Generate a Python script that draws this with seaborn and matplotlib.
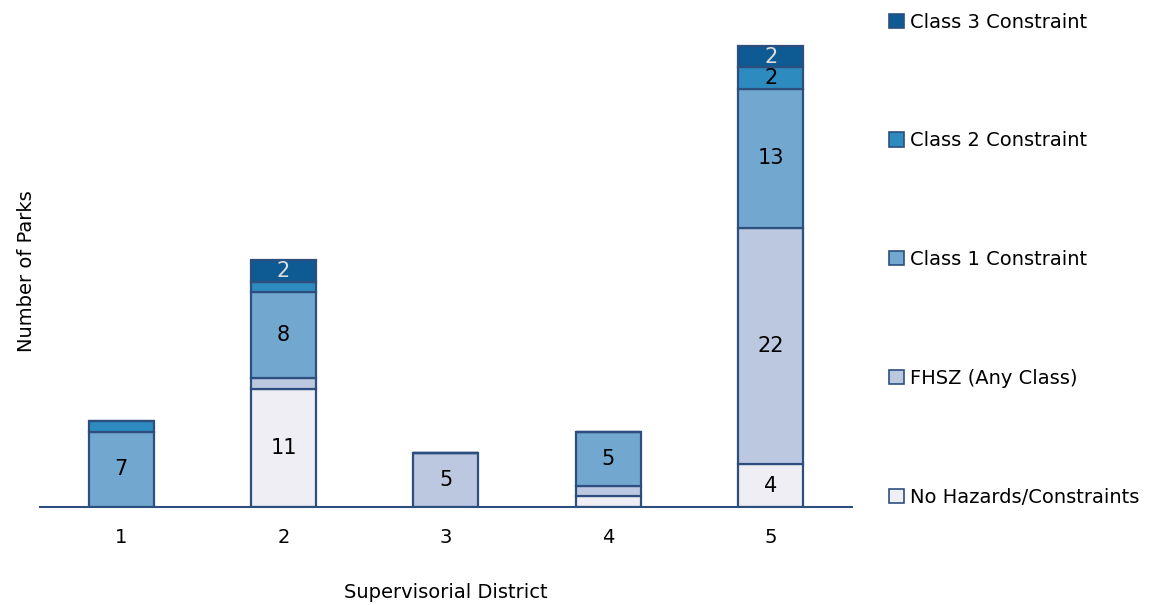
import matplotlib
matplotlib.use("Agg")
import matplotlib.pyplot as plt
import seaborn as sns
import numpy as np
import pandas as pd
from matplotlib.patches import Patch

districts = ["1", "2", "3", "4", "5"]
no_hazards = [0, 11, 0, 1, 4]
fhsz = [0, 1, 5, 1, 22]
class1 = [7, 8, 0, 5, 13]
class2 = [1, 1, 0, 0, 2]
class3 = [0, 2, 0, 0, 2]

series_names = ["No Hazards/Constraints", "FHSZ (Any Class)", "Class 1 Constraint",
                "Class 2 Constraint", "Class 3 Constraint"]
series_values = [no_hazards, fhsz, class1, class2, class3]
colors = ["#F0EEF5", "#BCC8E0", "#72A8D0", "#2E8BC0", "#0E5A92"]
label_colors = ["black", "black", "black", "black", "#DDDDDD"]
edge = "#2C4F7F"

sns.set_theme(style="white")
plt.rcParams["font.family"] = ["DejaVu Sans"]
plt.rcParams["text.color"] = "black"
plt.rcParams["axes.labelcolor"] = "black"
plt.rcParams["xtick.color"] = "black"

fig = plt.figure(figsize=(11.73, 6.05), dpi=100)
ax = fig.add_axes([0.0341, 0.162, 0.6922, 0.780])

bottom = np.zeros(len(districts))
for name, vals, col, lcol in zip(series_names, series_values, colors, label_colors):
    df = pd.DataFrame({"District": districts, "Parks": vals})
    sns.barplot(data=df, x="District", y="Parks", order=districts, color=col,
                width=0.4, bottom=bottom, edgecolor=edge, linewidth=1.6,
                saturation=1, ax=ax, errorbar=None)
    cont = ax.containers[-1]
    labels = [str(v) if v >= 2 else "" for v in vals]
    ax.bar_label(cont, labels=labels, label_type="center", fontsize=15, color=lcol)
    bottom = bottom + np.array(vals)

ax.set_xlim(-0.5, 4.5)
ax.set_ylim(0, 44)
ax.set_yticks([])
for s in ["top", "right", "left"]:
    ax.spines[s].set_visible(False)
ax.spines["bottom"].set_color(edge)
ax.spines["bottom"].set_linewidth(1.5)
ax.tick_params(axis="x", length=0, labelsize=14, pad=15)
ax.set_xlabel("Supervisorial District", fontsize=14, labelpad=26)
ax.set_ylabel("Number of Parks", fontsize=14, labelpad=3)

handles = [Patch(facecolor=c, edgecolor=edge, linewidth=1.2) for c in colors]
leg = fig.legend(handles[::-1], series_names[::-1], loc="upper left",
                 bbox_to_anchor=(0.7515, 0.992), frameon=False, fontsize=14,
                 handlelength=0.75, handleheight=0.75, handletextpad=0.3,
                 labelspacing=5.13, borderaxespad=0)

fig.savefig("out.png", dpi=100)
